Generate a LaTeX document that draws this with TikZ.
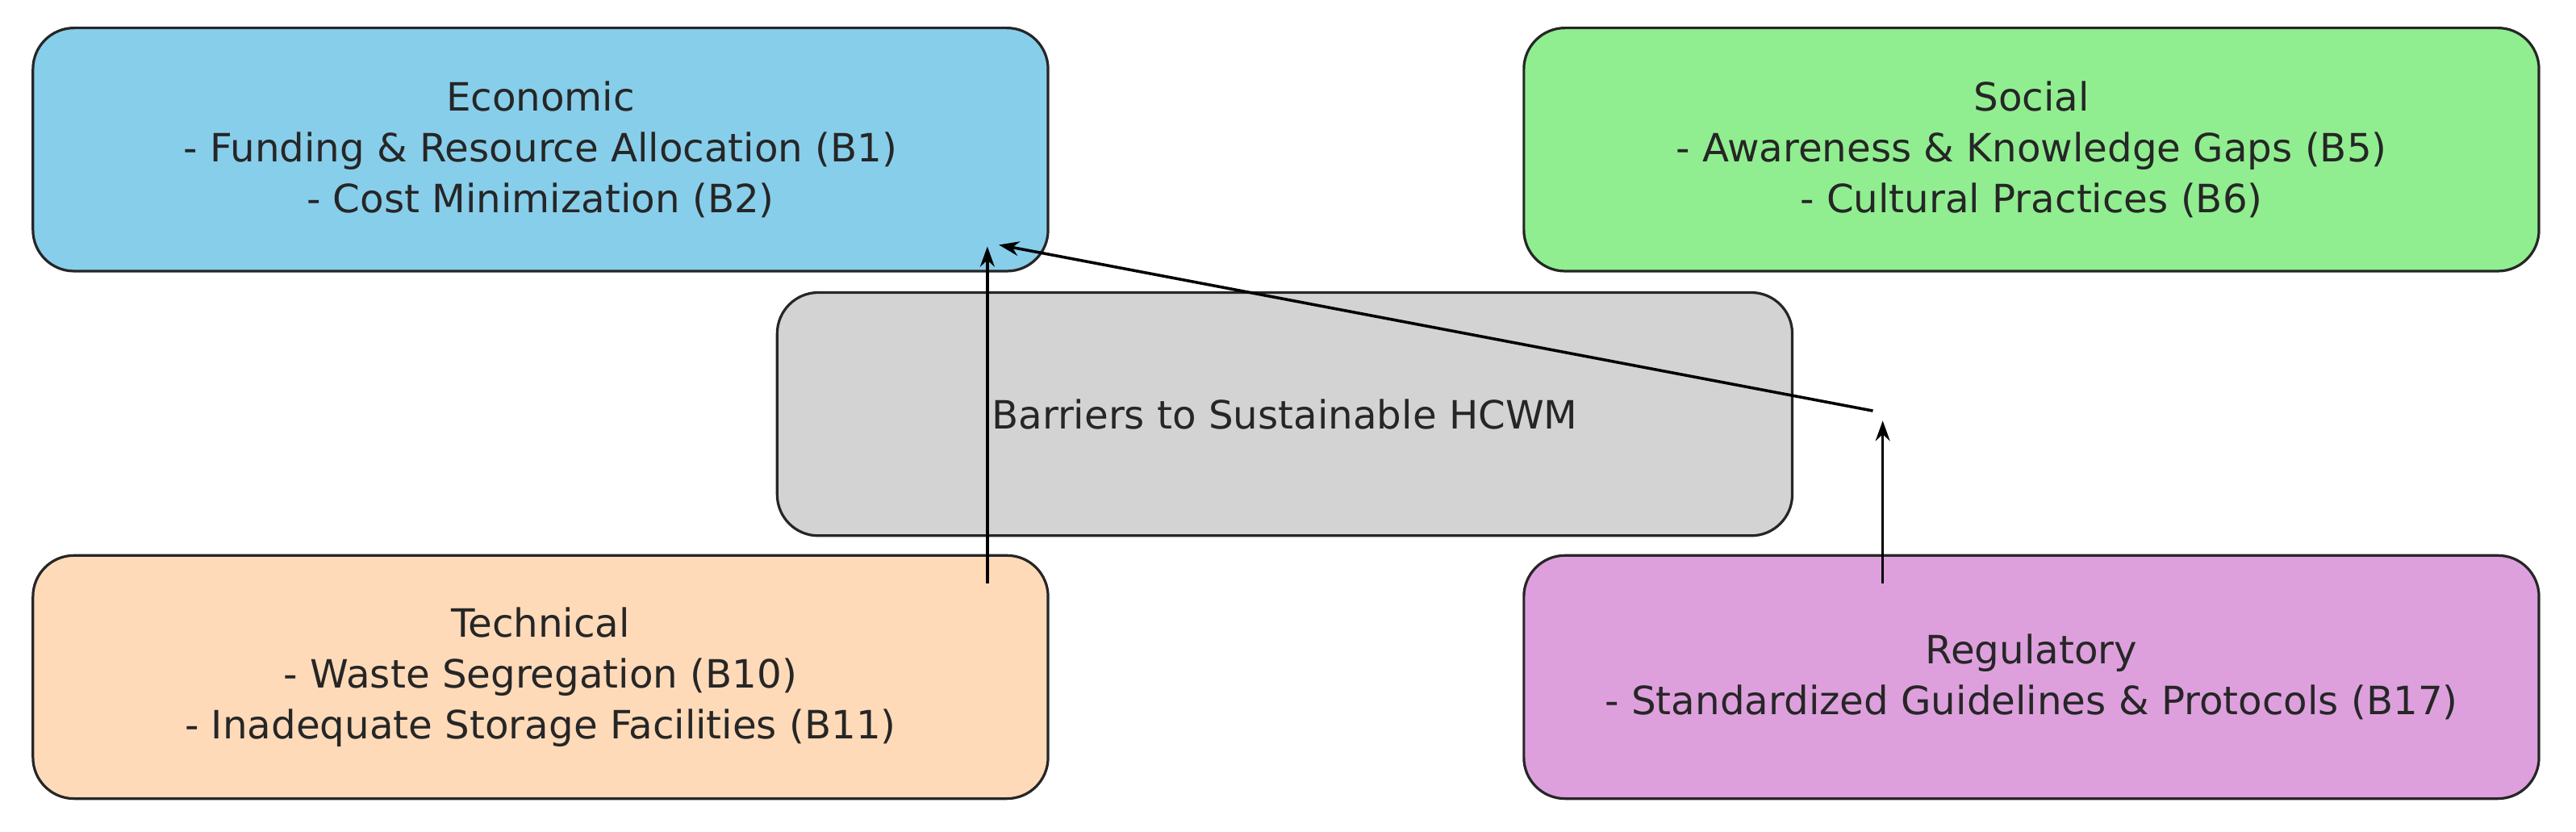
\documentclass[tikz,border=0pt]{standalone}
\usepackage{fontspec}
\setmainfont{DejaVu Sans}
\usetikzlibrary{arrows.meta}
\definecolor{cEco}{HTML}{87CEEB}
\definecolor{cSoc}{HTML}{90EE90}
\definecolor{cCen}{HTML}{D3D3D3}
\definecolor{cTec}{HTML}{FFDAB9}
\definecolor{cReg}{HTML}{DDA0DD}
\begin{document}
\begin{tikzpicture}[x=0.02cm,y=-0.02cm,
  box/.style={draw=black!85,line width=0.9pt,rounded corners=0.5cm,minimum width=12.36cm,minimum height=2.96cm,align=center,inner sep=0pt,font=\fontsize{13.5}{17.6}\selectfont,text=black!85},
  arr/.style={-{Stealth[length=7pt,width=5pt]},line width=1pt}]
\useasboundingbox (0,0) rectangle (1568,506);
\node[box,fill=cEco] (eco) at (329,91) {Economic\\- Funding \& Resource Allocation (B1)\\- Cost Minimization (B2)};
\node[box,fill=cSoc] (soc) at (1236.5,91) {Social\\- Awareness \& Knowledge Gaps (B5)\\- Cultural Practices (B6)};
\node[box,fill=cCen] (cen) at (782,252) {Barriers to Sustainable HCWM};
\node[box,fill=cTec] (tec) at (329,412) {Technical\\- Waste Segregation (B10)\\- Inadequate Storage Facilities (B11)};
\node[box,fill=cReg] (reg) at (1236.5,412) {Regulatory\\- Standardized Guidelines \& Protocols (B17)};
\coordinate (t1) at (601,355); \coordinate (e1) at (601,150);
\coordinate (r1) at (1146,355); \coordinate (r2) at (1146,256);
\coordinate (m1) at (1140,250); \coordinate (e2) at (608,149);
\draw[arr] (t1) -- (e1);
\draw[arr] (r1) -- (r2);
\draw[arr] (m1) -- (e2);
\end{tikzpicture}
\end{document}
